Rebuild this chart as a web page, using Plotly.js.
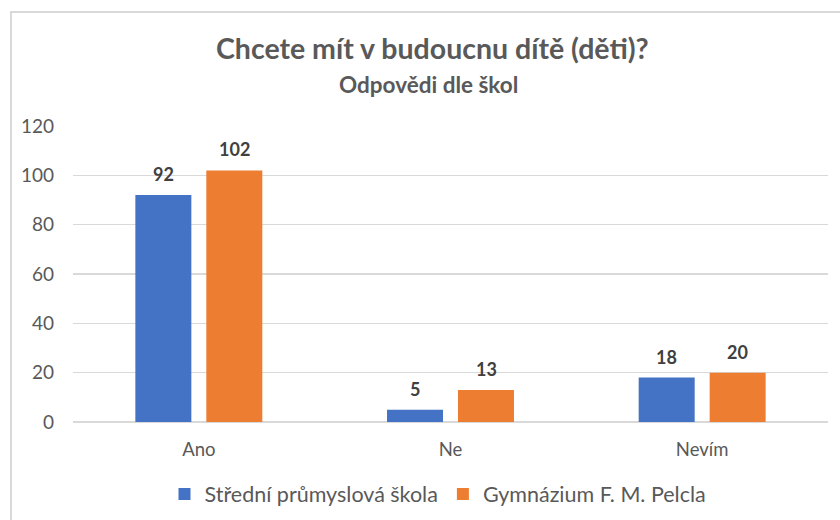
<!DOCTYPE html>
<html>
<head>
<meta charset="utf-8">
<script src="https://cdn.plot.ly/plotly-3.0.1.min.js"></script>
<style>
html,body{margin:0;padding:0;background:#fff;}
#chart{width:840px;height:520px;}
</style>
</head>
<body>
<div id="chart"></div>
<script>
var categories = ["Ano", "Ne", "Nevím"];
var seriesNames = ["Střední průmyslová škola", "Gymnázium F. M. Pelcla"];
var spsValues = [92, 5, 18];
var gymValues = [102, 13, 20];
var yTicks = [0, 20, 40, 60, 80, 100, 120];
var titleText = "Chcete mít v budoucnu dítě (děti)?";
var subtitleText = "Odpovědi dle škol";

var colors = ["#4472C4", "#ED7D31"];
var FONT = 'Lato, Carlito, Calibri, sans-serif';

var L = 73, R = 12, T = 126, B = 98, W = 840, H = 520;
var pw = W - L - R, ph = H - T - B;
function px2x(p){ return (p - L) / pw; }
function py2y(p){ return (H - B - p) / ph; }

var traces = [
  {type: "bar", name: seriesNames[0], x: categories, y: spsValues, marker: {color: colors[0]}, hoverinfo: "none"},
  {type: "bar", name: seriesNames[1], x: categories, y: gymValues, marker: {color: colors[1]}, hoverinfo: "none"}
];

var annotations = [];
[spsValues, gymValues].forEach(function(vals, si){
  vals.forEach(function(v, i){
    annotations.push({
      x: categories[i], y: v, xref: "x", yref: "y",
      text: "<b>" + v + "</b>", showarrow: false,
      yanchor: "bottom", yshift: 8, xshift: si === 0 ? -35.5 : 35.5,
      font: {family: FONT, size: 18, color: "#404040"}
    });
  });
});
annotations.push({
  xref: "paper", yref: "paper", x: px2x(432), y: py2y(48), xanchor: "center", yanchor: "middle",
  text: "<b>" + titleText + "</b>", showarrow: false,
  font: {family: FONT, size: 28.5, color: "#595959"}
});
annotations.push({
  xref: "paper", yref: "paper", x: px2x(428), y: py2y(84), xanchor: "center", yanchor: "middle",
  text: "<b>" + subtitleText + "</b>", showarrow: false,
  font: {family: FONT, size: 22.5, color: "#595959"}
});

var layout = {
  width: W, height: H,
  margin: {l: L, r: R, t: T, b: B, pad: 0, autoexpand: false},
  paper_bgcolor: "#ffffff", plot_bgcolor: "#ffffff",
  barmode: "group", bargap: 0.436, bargroupgap: 0.211,
  showlegend: true,
  legend: {
    orientation: "h", x: px2x(438), xanchor: "center", y: py2y(494), yanchor: "middle",
    font: {family: FONT, size: 21.5, color: "#595959"},
    itemwidth: 30, itemclick: false, traceorder: "normal"
  },
  xaxis: {
    type: "category", showgrid: false, zeroline: false, showline: false, ticks: "", automargin: false,
    tickfont: {family: FONT, size: 18.5, color: "#595959"}, ticklabelstandoff: 14, fixedrange: true
  },
  yaxis: {
    range: [0, 120], tickvals: yTicks, ticktext: yTicks.map(String), automargin: false,
    showgrid: true, gridcolor: "#d9d9d9", gridwidth: 1.5, zeroline: true, zerolinecolor: "#d9d9d9", zerolinewidth: 1.5,
    showline: false, ticks: "", ticklabelstandoff: 18,
    tickfont: {family: FONT, size: 19, color: "#595959"}, fixedrange: true
  },
  annotations: annotations,
  shapes: [
    {type: "line", xref: "paper", yref: "paper", x0: px2x(11), x1: px2x(845), y0: py2y(12), y1: py2y(12), line: {color: "#d9d9d9", width: 2}},
    {type: "line", xref: "paper", yref: "paper", x0: px2x(11), x1: px2x(11), y0: py2y(11), y1: py2y(525), line: {color: "#d9d9d9", width: 2}}
  ],
  font: {family: FONT}
};

Plotly.newPlot("chart", traces, layout, {displayModeBar: false, staticPlot: true});
</script>
</body>
</html>
